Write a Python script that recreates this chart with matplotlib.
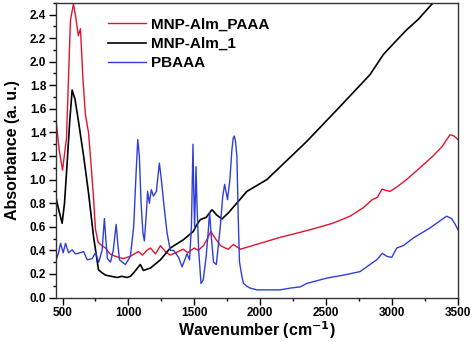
import matplotlib.pyplot as plt
from matplotlib.ticker import MultipleLocator

plt.rcParams['font.family'] = ['Liberation Sans', 'DejaVu Sans']
plt.rcParams['font.weight'] = 'bold'
plt.rcParams['mathtext.default'] = 'bf'

# MNP-Alm_PAAA (red)
red_x = [450, 475, 500, 530, 560, 583, 600, 620, 636, 655, 674, 697, 715, 735, 750,
         770, 788, 826, 860, 900, 960, 1015, 1045, 1076, 1106, 1140, 1167, 1205, 1243,
         1280, 1318, 1379, 1417, 1450, 1500, 1530, 1570, 1600, 1625, 1660, 1700, 1735,
         1758, 1796, 1850, 2000, 2150, 2379, 2550, 2682, 2780, 2850, 2890, 2924, 2950,
         2985, 3040, 3110, 3197, 3311, 3380, 3440, 3470, 3500]
red_y = [1.51, 1.25, 1.08, 1.35, 2.35, 2.49, 2.38, 2.22, 2.28, 1.85, 1.55, 1.40, 1.15,
         0.85, 0.58, 0.47, 0.45, 0.42, 0.37, 0.35, 0.33, 0.35, 0.37, 0.39, 0.36, 0.40,
         0.42, 0.37, 0.44, 0.39, 0.36, 0.39, 0.41, 0.38, 0.42, 0.40, 0.44, 0.50, 0.56,
         0.50, 0.44, 0.42, 0.41, 0.45, 0.41, 0.46, 0.51, 0.575, 0.63, 0.69, 0.76, 0.83,
         0.85, 0.92, 0.91, 0.90, 0.94, 1.00, 1.085, 1.20, 1.28, 1.38, 1.37, 1.34]

# MNP-Alm_1 (black)
black_x = [450, 470, 497, 515, 535, 555, 573, 595, 623, 660, 697, 735, 773, 800, 826,
           870, 914, 950, 990, 1015, 1040, 1076, 1090, 1114, 1167, 1243, 1318, 1417,
           1492, 1520, 1545, 1590, 1634, 1670, 1710, 1760, 1899, 2050, 2303, 2354, 2606,
           2833, 2934, 3000, 3111, 3200, 3312, 3330]
black_y = [0.85, 0.75, 0.63, 0.80, 1.14, 1.50, 1.76, 1.68, 1.48, 1.20, 0.89, 0.52,
           0.235, 0.21, 0.19, 0.18, 0.17, 0.18, 0.17, 0.18, 0.21, 0.26, 0.28, 0.23,
           0.25, 0.32, 0.42, 0.49, 0.56, 0.62, 0.66, 0.68, 0.745, 0.70, 0.666, 0.72,
           0.90, 1.00, 1.27, 1.325, 1.62, 1.89, 2.06, 2.14, 2.27, 2.36, 2.50, 2.52]

# PBAAA (blue)
blue_x = [450, 470, 485, 505, 523, 546, 573, 598, 636, 660, 687, 725, 750, 775, 800,
          810, 818, 828, 841, 864, 885, 907, 920, 932, 955, 977, 1015, 1040, 1058,
          1071, 1083, 1096, 1110, 1121, 1135, 1146, 1159, 1174, 1190, 1212, 1235, 1250,
          1268, 1293, 1318, 1343, 1381, 1407, 1445, 1464, 1478, 1490, 1496, 1502, 1508,
          1513, 1520, 1533, 1551, 1568, 1590, 1605, 1616, 1630, 1646, 1667, 1697, 1715,
          1730, 1752, 1770, 1785, 1795, 1803, 1812, 1823, 1835, 1843, 1861, 1873, 1899,
          1924, 1975, 2000, 2152, 2227, 2303, 2354, 2505, 2631, 2758, 2833, 2884, 2927,
          2960, 2998, 3036, 3086, 3162, 3288, 3414, 3452, 3480, 3500]
blue_y = [0.31, 0.38, 0.46, 0.38, 0.46, 0.38, 0.405, 0.37, 0.38, 0.39, 0.32, 0.33,
          0.38, 0.30, 0.40, 0.55, 0.67, 0.50, 0.33, 0.30, 0.40, 0.62, 0.45, 0.32, 0.30,
          0.28, 0.35, 0.60, 1.05, 1.34, 1.20, 0.80, 0.55, 0.48, 0.70, 0.90, 0.80, 0.915,
          0.86, 0.90, 1.14, 1.00, 0.80, 0.55, 0.40, 0.40, 0.34, 0.26, 0.37, 0.32, 0.60,
          1.30, 0.90, 0.60, 0.85, 1.11, 0.80, 0.40, 0.12, 0.15, 0.35, 0.55, 0.72, 0.50,
          0.30, 0.28, 0.60, 0.85, 0.96, 0.83, 1.00, 1.25, 1.35, 1.37, 1.33, 1.20, 0.60,
          0.30, 0.18, 0.12, 0.095, 0.08, 0.065, 0.065, 0.065, 0.08, 0.09, 0.12, 0.165,
          0.19, 0.22, 0.28, 0.32, 0.375, 0.35, 0.34, 0.42, 0.44, 0.505, 0.59, 0.69, 0.67,
          0.62, 0.575]

fig = plt.figure(figsize=(4.74, 3.42), dpi=100)
ax = fig.add_axes([0.118, 0.13, 0.848, 0.862])

ax.plot(red_x, red_y, color='#e3132f', lw=1.0, label='MNP-Alm_PAAA')
ax.plot(black_x, black_y, color='black', lw=1.2, label='MNP-Alm_1')
ax.plot(blue_x, blue_y, color='#2f3fd6', lw=1.0, label='PBAAA')

ax.set_xlim(450, 3500)
ax.set_ylim(0.0, 2.5)
ax.xaxis.set_major_locator(MultipleLocator(500))
ax.xaxis.set_minor_locator(MultipleLocator(250))
ax.yaxis.set_major_locator(MultipleLocator(0.2))
ax.yaxis.set_minor_locator(MultipleLocator(0.1))
ax.tick_params(which='major', length=5, width=1, labelsize=8.5, pad=2)
ax.tick_params(which='minor', length=2.5, width=1)
ax.tick_params(top=False, right=False)
ax.set_yticks([i * 0.2 for i in range(13)])
ax.set_yticklabels(['%.1f' % (i * 0.2) for i in range(13)])
for lab in ax.get_xticklabels() + ax.get_yticklabels():
    lab.set_fontweight('bold')
for s in ax.spines.values():
    s.set_linewidth(1.0)
    s.set_color('#333333')

ax.set_xlabel('Wavenumber (cm$^{-1}$)', fontsize=11.5, fontweight='bold', labelpad=0)
ax.set_ylabel('Absorbance (a. u.)', fontsize=11.5, fontweight='bold', labelpad=7)

leg = ax.legend(loc='upper left', bbox_to_anchor=(0.13, 0.95), frameon=False,
                prop={'size': 11, 'weight': 'bold'}, handlelength=2.5,
                handletextpad=0.3, labelspacing=0.36, borderpad=0, borderaxespad=0)

fig.savefig('out.png', dpi=100)
